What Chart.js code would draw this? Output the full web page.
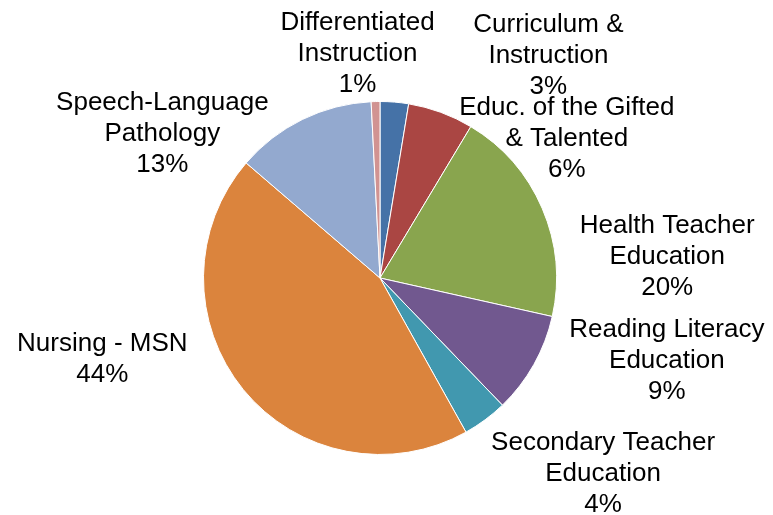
<!DOCTYPE html>
<html>
<head>
<meta charset="utf-8">
<script src="https://cdn.jsdelivr.net/npm/chart.js@4/dist/chart.umd.min.js"></script>
<style>
  html, body { margin: 0; padding: 0; background: #fff; }
  #wrap { width: 773px; height: 515px; position: relative; }
</style>
</head>
<body>
<div id="wrap"><canvas id="pie"></canvas></div>
<script>
// program share (clockwise from 12 o'clock)
var categories = [
  'Curriculum &\nInstruction',
  'Educ. of the Gifted\n& Talented',
  'Health Teacher\nEducation',
  'Reading Literacy\nEducation',
  'Secondary Teacher\nEducation',
  'Nursing - MSN',
  'Speech-Language\nPathology',
  'Differentiated\nInstruction'
];
var shares = [2.6, 6.0, 19.9, 9.3, 4.1, 44.4, 12.9, 0.8];
var sliceColors = ['#4572A7', '#AA4643', '#89A54E', '#71588F', '#4198AF', '#DB843D', '#93A9CF', '#D19392'];

// label nudges from the slice's outer mid point, like excel's best fit
var labelNudge = [[154, -48], [126, 24], [125, 46], [133, -6], [118, 52], [-141, -32], [-140, 12], [-18, -50]];

var outsideLabels = {
  id: 'outsideLabels',
  afterDatasetsDraw: function (chart) {
    var ctx = chart.ctx;
    var meta = chart.getDatasetMeta(0);
    var vals = chart.data.datasets[0].data;
    var total = vals.reduce(function (a, b) { return a + b; }, 0);
    var fontSize = 26, lineH = 31;
    ctx.save();
    ctx.font = fontSize + 'px "Liberation Sans", Arial, sans-serif';
    ctx.fillStyle = '#000';
    ctx.textAlign = 'center';
    ctx.textBaseline = 'alphabetic';
    meta.data.forEach(function (arc, i) {
      var p = arc.getProps(['x', 'y', 'startAngle', 'endAngle', 'outerRadius'], true);
      var mid = (p.startAngle + p.endAngle) / 2;
      var ax = p.x + Math.cos(mid) * p.outerRadius;
      var ay = p.y + Math.sin(mid) * p.outerRadius;
      var cx = ax + labelNudge[i][0];
      var cy = ay + labelNudge[i][1];
      var lines = chart.data.labels[i].split('\n');
      lines.push(Math.round(vals[i] / total * 100) + '%');
      var n = lines.length;
      lines.forEach(function (t, k) {
        var base = cy + (k - (n - 1) / 2) * lineH + fontSize * 0.358;
        ctx.fillText(t, cx, base);
      });
    });
    ctx.restore();
  }
};

new Chart(document.getElementById('pie'), {
  type: 'pie',
  data: {
    labels: categories,
    datasets: [{
      data: shares,
      backgroundColor: sliceColors,
      borderColor: '#ffffff',
      borderWidth: 1
    }]
  },
  options: {
    responsive: true,
    maintainAspectRatio: false,
    animation: false,
    layout: { padding: { left: 203, right: 216, top: 101, bottom: 60 } },
    plugins: {
      legend: { display: false },
      tooltip: { enabled: false }
    }
  },
  plugins: [outsideLabels]
});
</script>
</body>
</html>
